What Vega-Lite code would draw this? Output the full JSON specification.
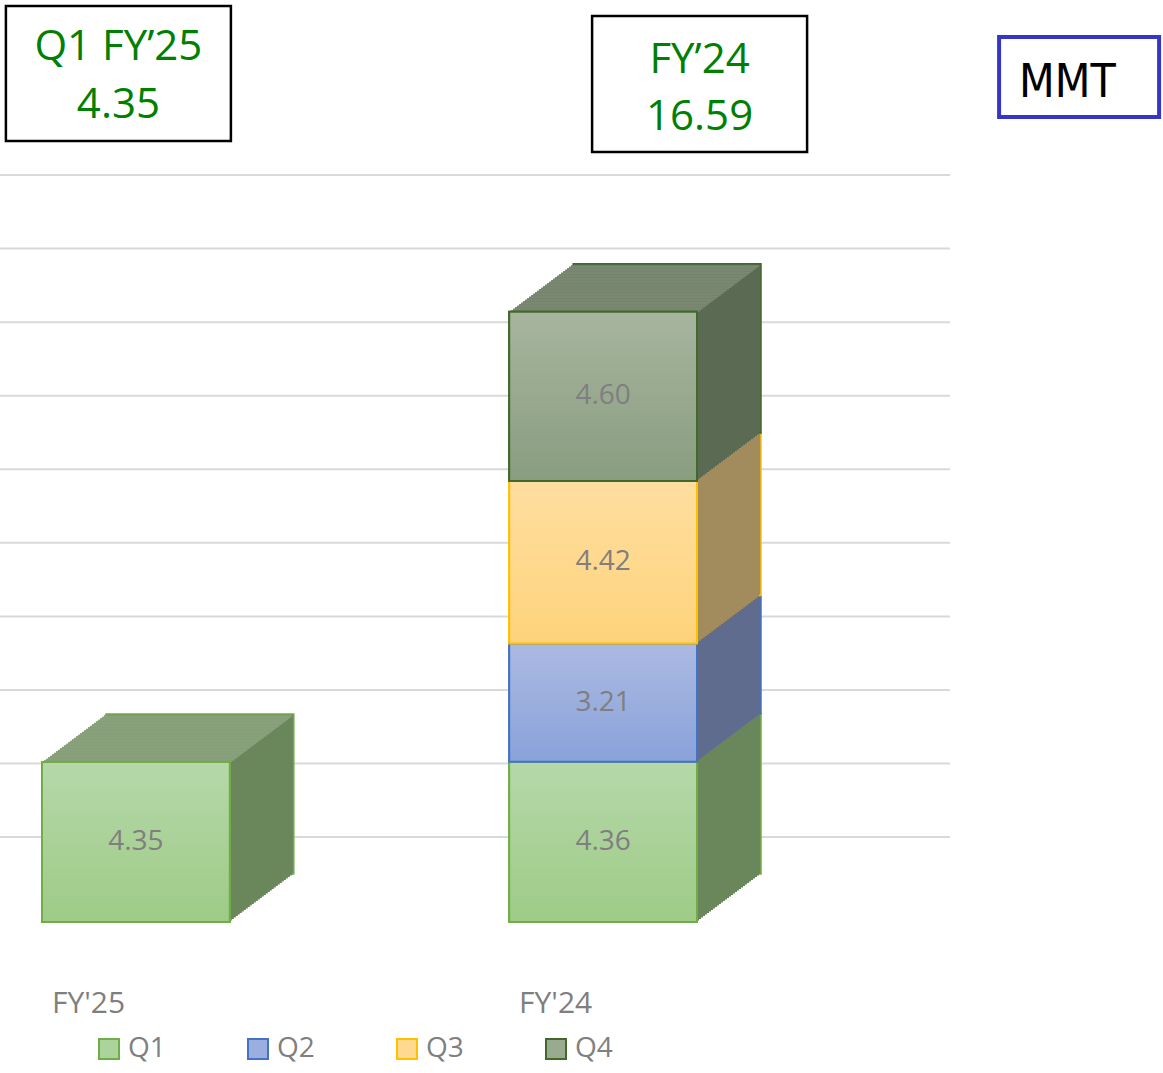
{
  "$schema": "https://vega.github.io/schema/vega-lite/v6.json",
  "width": 950,
  "height": 922,
  "autosize": "none",
  "padding": {"left": 0, "top": 0, "right": 213, "bottom": 151},
  "background": "white",
  "config": {"view": {"stroke": null}, "font": "Open Sans", "axisY": {"disable": true}},
  "layer": [
    {
      "data": {"values": [{"g": 2}, {"g": 4}, {"g": 6}, {"g": 8}, {"g": 10}, {"g": 12}, {"g": 14}, {"g": 16}, {"g": 18}, {"g": 20}]},
      "mark": {"type": "rule", "color": "#d9d9d9", "strokeWidth": 2},
      "encoding": {"y": {"field": "g", "type": "quantitative", "scale": {"domain": [-0.31, 24.76], "nice": false, "zero": false}, "axis": null}}
    },
    {
      "data": {"values": [
        {"year": "FY'25", "quarter": "Q1", "value": 4.35},
        {"year": "FY'24", "quarter": "Q1", "value": 4.36},
        {"year": "FY'24", "quarter": "Q2", "value": 3.21},
        {"year": "FY'24", "quarter": "Q3", "value": 4.42},
        {"year": "FY'24", "quarter": "Q4", "value": 4.60}
      ]},
      "transform": [
        {"stack": "value", "groupby": ["year"], "sort": [{"field": "quarter", "order": "ascending"}], "as": ["v0", "v1"]},
        {"calculate": "(datum.v0 + datum.v1) / 2", "as": "vmid"},
        {"joinaggregate": [{"op": "max", "field": "v1", "as": "vtot"}], "groupby": ["year"]}
      ],
      "encoding": {
        "x": {"field": "year", "type": "nominal",
          "scale": {"domain": ["FY'25", "FY'24"], "range": [42, 697], "paddingInner": 0.598, "paddingOuter": 0},
          "axis": {"title": null, "orient": "bottom", "domain": false, "ticks": false, "grid": false, "labelAngle": 0, "labelAlign": "left", "labelOffset": -84, "labelPadding": 81, "labelBaseline": "middle", "labelFontSize": 30, "labelColor": "#7f7f7f", "labelFont": "Open Sans"}}
      },
      "layer": [
        {
          "encoding": {
            "y": {"field": "v1", "type": "quantitative", "scale": {"domain": [0, 25.07], "nice": false, "zero": false}, "axis": null},
            "y2": {"field": "v0"},
            "fill": {"field": "quarter", "type": "nominal", "scale": {"domain": ["Q1", "Q2", "Q3", "Q4"], "range": ["#69875b", "#5f6c8e", "#a28b5c", "#5b6a53"]}, "legend": null}
          },
          "layer": [
            {"mark": {"type": "bar", "xOffset": 64, "yOffset": -48, "y2Offset": -48, "strokeWidth": 1.5},
             "encoding": {"stroke": {"field": "quarter", "type": "nominal", "scale": {"domain": ["Q1", "Q2", "Q3", "Q4"], "range": ["#70ad47", "#4472c4", "#ffc000", "#43682b"]}, "legend": null}}},
            {"mark": {"type": "bar", "xOffset": 62, "yOffset": -46.5, "y2Offset": -46.5}},
            {"mark": {"type": "bar", "xOffset": 60, "yOffset": -45, "y2Offset": -45}},
            {"mark": {"type": "bar", "xOffset": 58, "yOffset": -43.5, "y2Offset": -43.5}},
            {"mark": {"type": "bar", "xOffset": 56, "yOffset": -42, "y2Offset": -42}},
            {"mark": {"type": "bar", "xOffset": 54, "yOffset": -40.5, "y2Offset": -40.5}},
            {"mark": {"type": "bar", "xOffset": 52, "yOffset": -39, "y2Offset": -39}},
            {"mark": {"type": "bar", "xOffset": 50, "yOffset": -37.5, "y2Offset": -37.5}},
            {"mark": {"type": "bar", "xOffset": 48, "yOffset": -36, "y2Offset": -36}},
            {"mark": {"type": "bar", "xOffset": 46, "yOffset": -34.5, "y2Offset": -34.5}},
            {"mark": {"type": "bar", "xOffset": 44, "yOffset": -33, "y2Offset": -33}},
            {"mark": {"type": "bar", "xOffset": 42, "yOffset": -31.5, "y2Offset": -31.5}},
            {"mark": {"type": "bar", "xOffset": 40, "yOffset": -30, "y2Offset": -30}},
            {"mark": {"type": "bar", "xOffset": 38, "yOffset": -28.5, "y2Offset": -28.5}},
            {"mark": {"type": "bar", "xOffset": 36, "yOffset": -27, "y2Offset": -27}},
            {"mark": {"type": "bar", "xOffset": 34, "yOffset": -25.5, "y2Offset": -25.5}},
            {"mark": {"type": "bar", "xOffset": 32, "yOffset": -24, "y2Offset": -24}},
            {"mark": {"type": "bar", "xOffset": 30, "yOffset": -22.5, "y2Offset": -22.5}},
            {"mark": {"type": "bar", "xOffset": 28, "yOffset": -21, "y2Offset": -21}},
            {"mark": {"type": "bar", "xOffset": 26, "yOffset": -19.5, "y2Offset": -19.5}},
            {"mark": {"type": "bar", "xOffset": 24, "yOffset": -18, "y2Offset": -18}},
            {"mark": {"type": "bar", "xOffset": 22, "yOffset": -16.5, "y2Offset": -16.5}},
            {"mark": {"type": "bar", "xOffset": 20, "yOffset": -15, "y2Offset": -15}},
            {"mark": {"type": "bar", "xOffset": 18, "yOffset": -13.5, "y2Offset": -13.5}},
            {"mark": {"type": "bar", "xOffset": 16, "yOffset": -12, "y2Offset": -12}},
            {"mark": {"type": "bar", "xOffset": 14, "yOffset": -10.5, "y2Offset": -10.5}},
            {"mark": {"type": "bar", "xOffset": 12, "yOffset": -9, "y2Offset": -9}},
            {"mark": {"type": "bar", "xOffset": 10, "yOffset": -7.5, "y2Offset": -7.5}},
            {"mark": {"type": "bar", "xOffset": 8, "yOffset": -6, "y2Offset": -6}},
            {"mark": {"type": "bar", "xOffset": 6, "yOffset": -4.5, "y2Offset": -4.5}},
            {"mark": {"type": "bar", "xOffset": 4, "yOffset": -3, "y2Offset": -3}},
            {"mark": {"type": "bar", "xOffset": 2, "yOffset": -1.5, "y2Offset": -1.5}}
          ]
        },
        {
          "transform": [{"filter": "datum.v1 == datum.vtot"}],
          "encoding": {
            "y": {"field": "v1", "type": "quantitative", "axis": null},
            "fill": {"field": "quarter", "type": "nominal", "scale": {"domain": ["Q1", "Q2", "Q3", "Q4"], "range": ["#88a17b", "#7d8aa8", "#b8a57a", "#7a8872"]}, "legend": null}
          },
          "layer": [
            {"mark": {"type": "tick", "opacity": 1, "thickness": 1.9, "size": 188, "xOffset": 62, "yOffset": -45.75}},
            {"mark": {"type": "tick", "opacity": 1, "thickness": 1.9, "size": 188, "xOffset": 60, "yOffset": -44.25}},
            {"mark": {"type": "tick", "opacity": 1, "thickness": 1.9, "size": 188, "xOffset": 58, "yOffset": -42.75}},
            {"mark": {"type": "tick", "opacity": 1, "thickness": 1.9, "size": 188, "xOffset": 56, "yOffset": -41.25}},
            {"mark": {"type": "tick", "opacity": 1, "thickness": 1.9, "size": 188, "xOffset": 54, "yOffset": -39.75}},
            {"mark": {"type": "tick", "opacity": 1, "thickness": 1.9, "size": 188, "xOffset": 52, "yOffset": -38.25}},
            {"mark": {"type": "tick", "opacity": 1, "thickness": 1.9, "size": 188, "xOffset": 50, "yOffset": -36.75}},
            {"mark": {"type": "tick", "opacity": 1, "thickness": 1.9, "size": 188, "xOffset": 48, "yOffset": -35.25}},
            {"mark": {"type": "tick", "opacity": 1, "thickness": 1.9, "size": 188, "xOffset": 46, "yOffset": -33.75}},
            {"mark": {"type": "tick", "opacity": 1, "thickness": 1.9, "size": 188, "xOffset": 44, "yOffset": -32.25}},
            {"mark": {"type": "tick", "opacity": 1, "thickness": 1.9, "size": 188, "xOffset": 42, "yOffset": -30.75}},
            {"mark": {"type": "tick", "opacity": 1, "thickness": 1.9, "size": 188, "xOffset": 40, "yOffset": -29.25}},
            {"mark": {"type": "tick", "opacity": 1, "thickness": 1.9, "size": 188, "xOffset": 38, "yOffset": -27.75}},
            {"mark": {"type": "tick", "opacity": 1, "thickness": 1.9, "size": 188, "xOffset": 36, "yOffset": -26.25}},
            {"mark": {"type": "tick", "opacity": 1, "thickness": 1.9, "size": 188, "xOffset": 34, "yOffset": -24.75}},
            {"mark": {"type": "tick", "opacity": 1, "thickness": 1.9, "size": 188, "xOffset": 32, "yOffset": -23.25}},
            {"mark": {"type": "tick", "opacity": 1, "thickness": 1.9, "size": 188, "xOffset": 30, "yOffset": -21.75}},
            {"mark": {"type": "tick", "opacity": 1, "thickness": 1.9, "size": 188, "xOffset": 28, "yOffset": -20.25}},
            {"mark": {"type": "tick", "opacity": 1, "thickness": 1.9, "size": 188, "xOffset": 26, "yOffset": -18.75}},
            {"mark": {"type": "tick", "opacity": 1, "thickness": 1.9, "size": 188, "xOffset": 24, "yOffset": -17.25}},
            {"mark": {"type": "tick", "opacity": 1, "thickness": 1.9, "size": 188, "xOffset": 22, "yOffset": -15.75}},
            {"mark": {"type": "tick", "opacity": 1, "thickness": 1.9, "size": 188, "xOffset": 20, "yOffset": -14.25}},
            {"mark": {"type": "tick", "opacity": 1, "thickness": 1.9, "size": 188, "xOffset": 18, "yOffset": -12.75}},
            {"mark": {"type": "tick", "opacity": 1, "thickness": 1.9, "size": 188, "xOffset": 16, "yOffset": -11.25}},
            {"mark": {"type": "tick", "opacity": 1, "thickness": 1.9, "size": 188, "xOffset": 14, "yOffset": -9.75}},
            {"mark": {"type": "tick", "opacity": 1, "thickness": 1.9, "size": 188, "xOffset": 12, "yOffset": -8.25}},
            {"mark": {"type": "tick", "opacity": 1, "thickness": 1.9, "size": 188, "xOffset": 10, "yOffset": -6.75}},
            {"mark": {"type": "tick", "opacity": 1, "thickness": 1.9, "size": 188, "xOffset": 8, "yOffset": -5.25}},
            {"mark": {"type": "tick", "opacity": 1, "thickness": 1.9, "size": 188, "xOffset": 6, "yOffset": -3.75}},
            {"mark": {"type": "tick", "opacity": 1, "thickness": 1.9, "size": 188, "xOffset": 4, "yOffset": -2.25}},
            {"mark": {"type": "tick", "opacity": 1, "thickness": 1.9, "size": 188, "xOffset": 2, "yOffset": -0.75}}
          ]
        },
        {
          "mark": {"type": "bar", "strokeWidth": 2},
          "encoding": {
            "y": {"field": "v1", "type": "quantitative", "axis": null},
            "y2": {"field": "v0"},
            "fill": {"field": "quarter", "type": "nominal", "scale": {"domain": ["Q1", "Q2", "Q3", "Q4"], "range": ["#abd39b", "#9aaedf", "#fed98f", "#98aa8f"]},
              "legend": {"title": null, "orient": "none", "legendX": 95, "legendY": 1035, "direction": "horizontal", "columns": 4, "symbolType": "square", "symbolSize": 400, "symbolStrokeWidth": 2, "labelFontSize": 28, "labelColor": "#7f7f7f", "labelFont": "Open Sans", "columnPadding": 78, "labelOffset": 5}},
            "stroke": {"field": "quarter", "type": "nominal", "scale": {"domain": ["Q1", "Q2", "Q3", "Q4"], "range": ["#70ad47", "#4472c4", "#ffc000", "#43682b"]},
              "legend": {"title": null, "orient": "none", "legendX": 95, "legendY": 1035, "direction": "horizontal", "columns": 4, "symbolType": "square", "symbolSize": 400, "symbolStrokeWidth": 2, "labelFontSize": 28, "labelColor": "#7f7f7f", "labelFont": "Open Sans", "columnPadding": 78, "labelOffset": 5}}
          }
        },
        {
          "transform": [{"filter": "datum.quarter == 'Q1'"}],
          "mark": {"type": "bar", "strokeWidth": 2, "stroke": "#70ad47",
            "fill": {"gradient": "linear", "x1": 0, "y1": 0, "x2": 0, "y2": 1, "stops": [{"offset": 0, "color": "#b6d8a9"}, {"offset": 1, "color": "#9ecb87"}]}},
          "encoding": {"y": {"field": "v1", "type": "quantitative", "axis": null}, "y2": {"field": "v0"}}
        },
        {
          "transform": [{"filter": "datum.quarter == 'Q2'"}],
          "mark": {"type": "bar", "strokeWidth": 2, "stroke": "#4472c4",
            "fill": {"gradient": "linear", "x1": 0, "y1": 0, "x2": 0, "y2": 1, "stops": [{"offset": 0, "color": "#abbae2"}, {"offset": 1, "color": "#8aa2da"}]}},
          "encoding": {"y": {"field": "v1", "type": "quantitative", "axis": null}, "y2": {"field": "v0"}}
        },
        {
          "transform": [{"filter": "datum.quarter == 'Q3'"}],
          "mark": {"type": "bar", "strokeWidth": 2, "stroke": "#ffc000",
            "fill": {"gradient": "linear", "x1": 0, "y1": 0, "x2": 0, "y2": 1, "stops": [{"offset": 0, "color": "#fedea0"}, {"offset": 1, "color": "#fed37b"}]}},
          "encoding": {"y": {"field": "v1", "type": "quantitative", "axis": null}, "y2": {"field": "v0"}}
        },
        {
          "transform": [{"filter": "datum.quarter == 'Q4'"}],
          "mark": {"type": "bar", "strokeWidth": 2, "stroke": "#43682b",
            "fill": {"gradient": "linear", "x1": 0, "y1": 0, "x2": 0, "y2": 1, "stops": [{"offset": 0, "color": "#a7b59f"}, {"offset": 1, "color": "#899d7f"}]}},
          "encoding": {"y": {"field": "v1", "type": "quantitative", "axis": null}, "y2": {"field": "v0"}}
        },
        {
          "mark": {"type": "text", "fontSize": 28, "color": "#7f7f7f", "font": "Open Sans", "baseline": "middle"},
          "encoding": {
            "y": {"field": "vmid", "type": "quantitative", "axis": null},
            "text": {"field": "value", "type": "quantitative", "format": ".2f"}
          }
        },
        {
          "data": {"values": [{"year": "FY'25", "head": "Q1 FY’25", "total": 4.35}]},
          "layer": [
            {"mark": {"type": "bar", "width": 225, "xOffset": -17.5, "fill": "white", "stroke": "black", "strokeWidth": 2.5},
             "encoding": {"y": {"datum": 24.907, "type": "quantitative", "axis": null}, "y2": {"datum": 21.236}}},
            {"mark": {"type": "text", "xOffset": -17.5, "fontSize": 42, "color": "#008000", "baseline": "alphabetic", "font": "Open Sans"},
             "encoding": {"y": {"datum": 23.438, "type": "quantitative", "axis": null}, "text": {"field": "head"}}},
            {"mark": {"type": "text", "xOffset": -17.5, "fontSize": 42, "color": "#008000", "baseline": "alphabetic", "font": "Open Sans"},
             "encoding": {"y": {"datum": 21.861, "type": "quantitative", "axis": null}, "text": {"field": "total", "type": "quantitative", "format": ".2f"}}}
          ]
        },
        {
          "data": {"values": [{"year": "FY'24", "head": "FY’24", "total": 16.59}]},
          "layer": [
            {"mark": {"type": "bar", "width": 215, "xOffset": 96.5, "fill": "white", "stroke": "black", "strokeWidth": 2.5},
             "encoding": {"y": {"datum": 24.635, "type": "quantitative", "axis": null}, "y2": {"datum": 20.937}}},
            {"mark": {"type": "text", "xOffset": 96.5, "fontSize": 42, "color": "#008000", "baseline": "alphabetic", "font": "Open Sans"},
             "encoding": {"y": {"datum": 23.085, "type": "quantitative", "axis": null}, "text": {"field": "head"}}},
            {"mark": {"type": "text", "xOffset": 96.5, "fontSize": 42, "color": "#008000", "baseline": "alphabetic", "font": "Open Sans"},
             "encoding": {"y": {"datum": 21.535, "type": "quantitative", "axis": null}, "text": {"field": "total", "type": "quantitative", "format": ".2f"}}}
          ]
        },
        {
          "data": {"values": [{"year": "FY'24", "unit": "MMT"}]},
          "layer": [
            {"mark": {"type": "bar", "width": 160, "xOffset": 476, "fill": "white", "stroke": "#3535c8", "strokeWidth": 4},
             "encoding": {"y": {"datum": 24.064, "type": "quantitative", "axis": null}, "y2": {"datum": 21.889}}},
            {"mark": {"type": "text", "xOffset": 416, "align": "left", "fontSize": 46, "color": "black", "baseline": "alphabetic", "font": "DejaVu Sans Condensed, Roboto, sans-serif"},
             "encoding": {"y": {"datum": 22.432, "type": "quantitative", "axis": null}, "text": {"field": "unit"}}}
          ]
        }
      ],
      "resolve": {"scale": {"fill": "independent", "stroke": "independent"}}
    }
  ],
  "resolve": {"scale": {"y": "independent"}}
}
